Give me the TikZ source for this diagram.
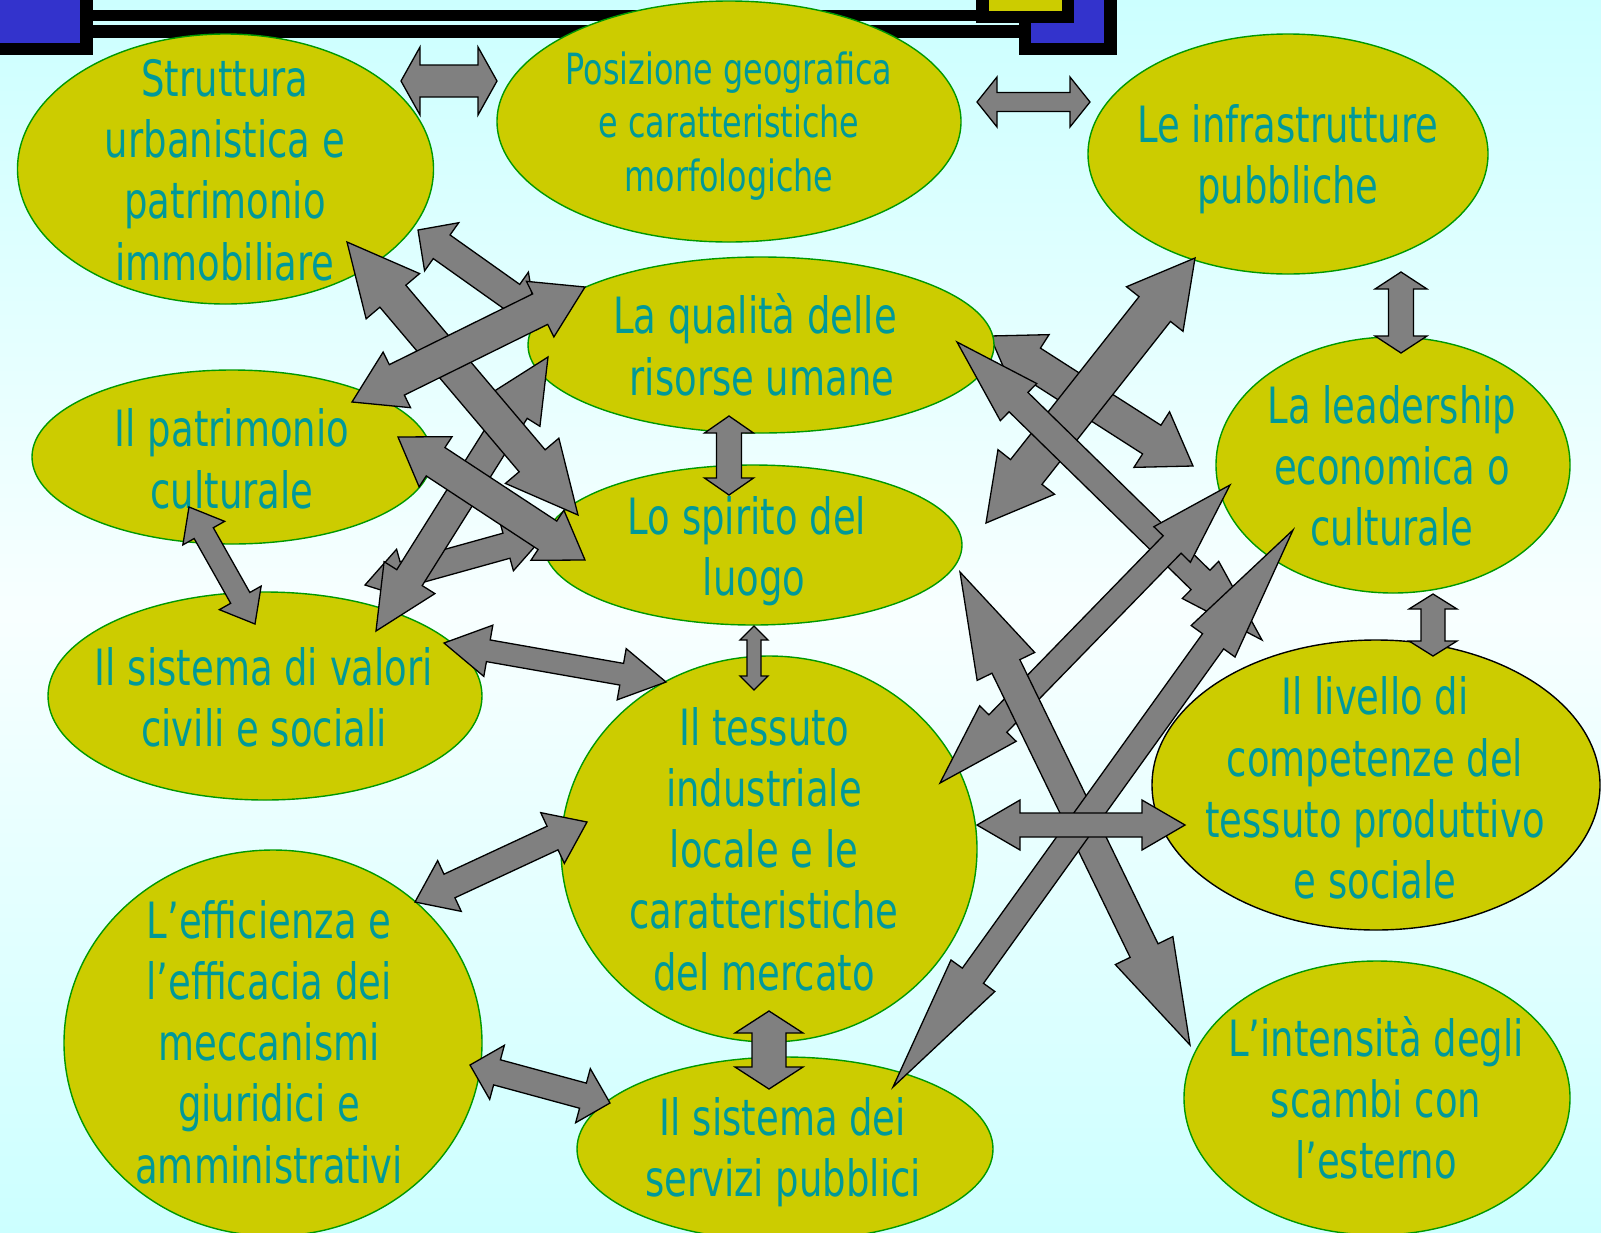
\documentclass[tikz,border=0pt]{standalone}
\usepackage{fontspec}
\setmainfont{DejaVu Sans}[FakeStretch=0.74]
\usetikzlibrary{shapes.geometric,calc}
\definecolor{bgc}{RGB}{204,255,255}
\definecolor{bgm}{RGB}{248,255,255}
\definecolor{ellf}{RGB}{204,204,0}
\definecolor{elld}{RGB}{0,153,0}
\definecolor{txtc}{RGB}{0,153,153}
\definecolor{arrf}{RGB}{128,128,128}
\definecolor{decob}{RGB}{51,51,204}
% double block arrow: #1,#2 tips, #3 shaft half width, #4 head half width, #5 head length
\newcommand\dbarr[5]{%
 \draw[arr] (#1) -- ($(#1)!#5pt!(#2)!#4pt!90:(#2)$) -- ($(#1)!#5pt!(#2)!#3pt!90:(#2)$)
  -- ($(#2)!#5pt!(#1)!#3pt!-90:(#1)$) -- ($(#2)!#5pt!(#1)!#4pt!-90:(#1)$) -- (#2)
  -- ($(#2)!#5pt!(#1)!#4pt!90:(#1)$) -- ($(#2)!#5pt!(#1)!#3pt!90:(#1)$)
  -- ($(#1)!#5pt!(#2)!#3pt!-90:(#2)$) -- ($(#1)!#5pt!(#2)!#4pt!-90:(#2)$) -- cycle;}
\begin{document}
\begin{tikzpicture}[x=1pt,y=-1pt,
  ell/.style={ellipse, draw=elld, fill=ellf, line width=1.4pt, inner sep=0pt},
  txt/.style={text=txtc, align=center, inner sep=0pt, font=\fontsize{50}{61.3}\selectfont},
  stxt/.style={text=txtc, align=center, inner sep=0pt, font=\fontsize{43}{53.5}\selectfont},
  arr/.style={draw=black, fill=arrf, line width=1.3pt, line join=miter}]
\useasboundingbox (0,0) rectangle (1601,1232);
\shade[top color=bgc, bottom color=bgc, middle color=bgm] (0,0) rectangle (1601,1232);
% top decoration
\fill[black] (0,0) rectangle (93,55);
\fill[decob] (0,0) rectangle (80,43);
\fill[black] (93,9.5) rectangle (976,21);
\fill[black] (93,25) rectangle (1019,37.5);
\fill[black] (976,0) rectangle (1117,22.7);
\fill[black] (1019,0) rectangle (1117,55);
\fill[ellf] (989,0) rectangle (1062,10.7);
\fill[decob] (1074,0) rectangle (1104,23);
\fill[decob] (1031,23) rectangle (1104,43);
% arrow end points
\coordinate (l1a) at (418,230); \coordinate (l1b) at (535,313);
\coordinate (a15a) at (990,336); \coordinate (a15b) at (1193,466);
% arrows behind the ellipses
\dbarr{l1a}{l1b}{14.5}{29.5}{29}
\dbarr{a15a}{a15b}{17}{33}{49}
% ellipses
\node[ell, minimum width=416pt, minimum height=270pt] (e1) at (225.5,169) {};
\node[ell, minimum width=464pt, minimum height=241pt] (e2) at (729,121.5) {};
\node[ell, minimum width=400pt, minimum height=240pt] (e3) at (1288,154) {};
\node[ell, minimum width=466pt, minimum height=176pt] (e4) at (761,345) {};
\node[ell, minimum width=400pt, minimum height=174pt] (e5) at (232,457) {};
\node[ell, minimum width=354pt, minimum height=256pt] (e6) at (1393,465) {};
\node[ell, minimum width=418pt, minimum height=160pt] (e7) at (753,545) {};
\node[ell, minimum width=434pt, minimum height=208pt] (e8) at (265,696) {};
\node[ell, minimum width=416pt, minimum height=386pt] (e9) at (769,849) {};
\node[ell, draw=black, minimum width=448pt, minimum height=290pt] (e10) at (1376,785) {};
\node[ell, minimum width=418pt, minimum height=386pt] (e11) at (273,1043) {};
\node[ell, minimum width=416pt, minimum height=184pt] (e12) at (785,1149) {};
\node[ell, minimum width=386pt, minimum height=274pt] (e13) at (1377,1098) {};
% texts
\node[txt] (t1) at (225,170) {Struttura\\urbanistica e\\patrimonio\\immobiliare};
\node[stxt] (t2) at (729,126) {Posizione geografica\\e caratteristiche\\morfologiche};
\node[txt] (t3) at (1288,159) {Le infrastrutture\\pubbliche};
\node[txt] (t4) at (755,345) {La qualità delle\\\hspace*{14pt}risorse umane};
\node[txt] (t5) at (232,459) {Il patrimonio\\culturale};
\node[txt] (t6) at (1392,466) {La leadership\\economica o\\culturale};
\node[txt] (t7) at (747,551) {Lo spirito del\\\hspace*{14pt}luogo};
\node[txt] (t8) at (264,697) {Il sistema di valori\\civili e sociali};
\node[txt] (t9) at (764,849) {Il tessuto\\industriale\\locale e le\\caratteristiche\\del mercato};
\node[txt] (t10) at (1375,788) {Il livello di\\competenze del\\tessuto produttivo\\e sociale};
\node[txt] (t11) at (269,1042) {L’efficienza e\\l’efficacia dei\\meccanismi\\giuridici e\\amministrativi};
\node[txt] (t12) at (783,1152) {Il sistema dei\\servizi pubblici};
\node[txt] (t13) at (1376,1098) {L’intensità degli\\scambi con\\l’esterno};
% arrow end points
\coordinate (a1a) at (401,81); \coordinate (a1b) at (497,81);
\coordinate (a2a) at (977,102); \coordinate (a2b) at (1090,102);
\coordinate (a3a) at (1401,272); \coordinate (a3b) at (1401,353);
\coordinate (a4a) at (729,416); \coordinate (a4b) at (729,495);
\coordinate (a5a) at (754,626); \coordinate (a5b) at (754,690);
\coordinate (a6a) at (769,1011); \coordinate (a6b) at (769,1089);
\coordinate (a7a) at (1433,594); \coordinate (a7b) at (1433,656);
\coordinate (a8a) at (189,507); \coordinate (a8b) at (255,624);
\coordinate (a9a) at (444,643); \coordinate (a9b) at (666,682);
\coordinate (a10a) at (415,902); \coordinate (a10b) at (587,822);
\coordinate (a11a) at (470,1065); \coordinate (a11b) at (610,1103);
\coordinate (a12a) at (977,825); \coordinate (a12b) at (1185,825);
\coordinate (l2a) at (352,402); \coordinate (l2b) at (585,287);
\coordinate (l3a) at (347,242); \coordinate (l3b) at (578,515);
\coordinate (l4a) at (398,437); \coordinate (l4b) at (585,560);
\coordinate (l5a) at (548,357); \coordinate (l5b) at (376,631);
\coordinate (l6a) at (365,585); \coordinate (l6b) at (545,535);
\coordinate (a16a) at (986,523); \coordinate (a16b) at (1195,258);
\coordinate (a17a) at (957,342); \coordinate (a17b) at (1262,640);
\coordinate (a13a) at (940,783); \coordinate (a13b) at (1230,485);
\coordinate (a14a) at (960,572); \coordinate (a14b) at (1190,1045);
\coordinate (b1a) at (893,1087); \coordinate (b1b) at (1293,530);
% arrows
\dbarr{a1a}{a1b}{16}{34}{19}
\dbarr{a2a}{a2b}{9.5}{25}{20}
\dbarr{a3a}{a3b}{12.5}{26}{17}
\dbarr{a4a}{a4b}{12.5}{24.5}{17}
\dbarr{a5a}{a5b}{7}{14}{14}
\dbarr{a6a}{a6b}{17}{34}{22}
\dbarr{a7a}{a7b}{12}{24}{15}
\dbarr{a8a}{a8b}{11}{24}{30}
\dbarr{a9a}{a9b}{11}{26}{45}
\dbarr{a10a}{a10b}{13}{28}{38}
\dbarr{a11a}{a11b}{13}{28}{28}
\dbarr{l6a}{l6b}{13}{26}{40}
\dbarr{l5a}{l5b}{15}{30}{63}
\dbarr{l3a}{l3b}{17}{35}{71}
\dbarr{l2a}{l2b}{17}{31}{50}
\dbarr{l4a}{l4b}{17}{30}{45}
\dbarr{a16a}{a16b}{20}{36}{65}
\dbarr{a17a}{a17b}{13.5}{26}{86}
\dbarr{a13a}{a13b}{12.5}{25.5}{83}
\dbarr{a14a}{a14b}{15.5}{32}{105}
\dbarr{b1a}{b1b}{13}{27}{137}
\dbarr{a12a}{a12b}{12}{25}{43}
\end{tikzpicture}
\end{document}
